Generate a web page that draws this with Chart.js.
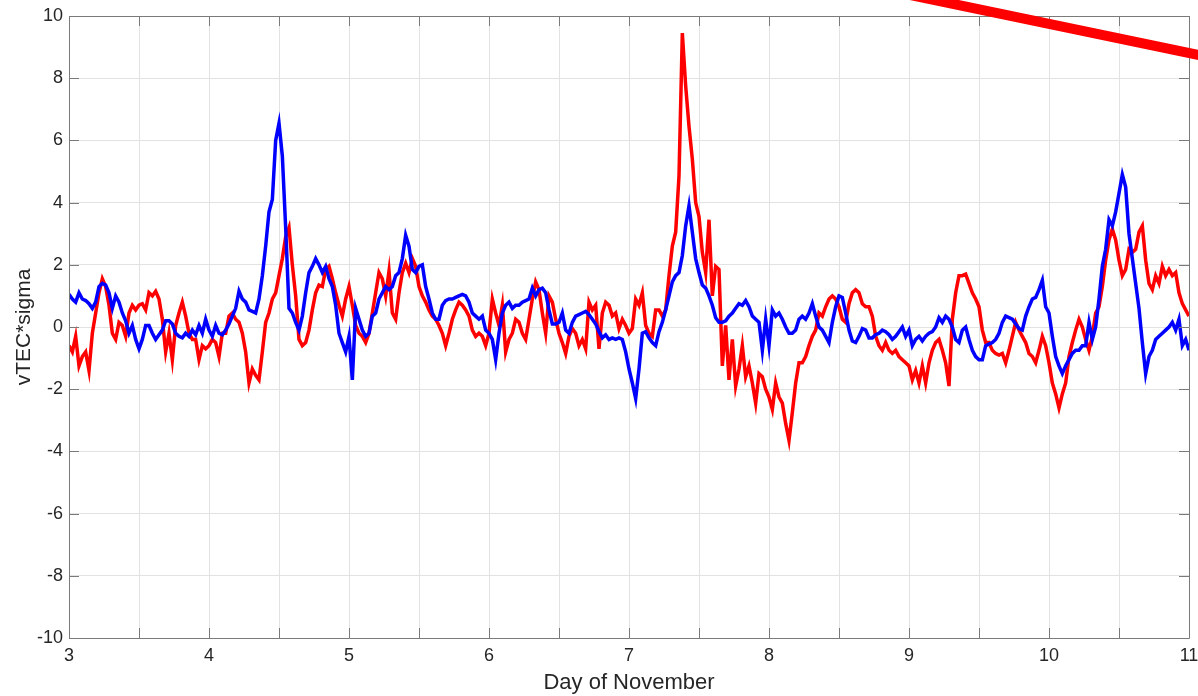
<!DOCTYPE html>
<html>
<head>
<meta charset="utf-8">
<title>vTEC*sigma, Day of November</title>
<script src="https://cdn.jsdelivr.net/npm/chart.js@4.4.1/dist/chart.umd.min.js"></script>
<style>
    html, body { margin: 0; padding: 0; background: #ffffff; }
    #wrap { width: 1198px; height: 696px; }
</style>
</head>
<body>
<div id="wrap"><canvas id="chart" width="1198" height="696"></canvas></div>
<script>
// Sampling of both series (day of November)
const START_DAY = 3;
const SAMPLES_PER_DAY = 42;

// Axis ranges and tick steps
const X_RANGE = [3, 11];
const X_TICK_STEP = 0.5;
const Y_RANGE = [-10, 10];
const Y_TICK_STEP = 2;

// Blue series (vTEC*sigma)
const blueSeries = [
    1.05, 0.9, 0.8, 1.1, 0.9, 0.85, 0.75, 0.6, 0.8, 1.3,
    1.4, 1.35, 1.1, 0.6, 1.0, 0.8, 0.45, 0.2, -0.2, 0.05,
    -0.4, -0.7, -0.4, 0.05, 0.05, -0.2, -0.4, -0.25, -0.1, 0.2,
    0.2, 0.1, -0.2, -0.3, -0.35, -0.2, -0.3, -0.1, -0.25, 0.05,
    -0.2, 0.25, -0.1, -0.3, 0.05, -0.2, -0.25, -0.1, 0.1, 0.35,
    0.6, 1.15, 0.9, 0.8, 0.55, 0.5, 0.45, 0.9, 1.65, 2.6,
    3.7, 4.1, 6.0, 6.55, 5.5, 3.2, 0.6, 0.45, 0.15,
    -0.1, 0.35, 1.1, 1.75, 1.95, 2.2, 2.0, 1.75, 1.95, 1.55,
    1.3, 0.7, -0.2, -0.5, -0.8, -0.3, -1.7, 0.6, 0.25, -0.1,
    -0.3, -0.2, 0.35, 0.45, 0.9, 1.1, 1.3, 1.2, 1.3, 1.65,
    1.75, 2.2, 2.95, 2.6, 1.85, 1.75, 1.95, 2.0, 1.3, 0.9,
    0.45, 0.25, 0.25, 0.7, 0.85, 0.9, 0.9, 0.95, 1.0, 1.05,
    1.0, 0.8, 0.45, 0.35, 0.25, 0.35, -0.1, -0.2, -0.4, -1.05,
    -0.2, 0.45, 0.7, 0.8, 0.6, 0.7,
    0.7, 0.8, 0.85, 0.9, 1.25, 1.0, 1.2, 1.25, 1.1, 0.55,
    0.1, 0.1, 0.15, 0.45, -0.1, -0.2, 0.15, 0.35, 0.4, 0.45,
    0.5, 0.4, 0.25, 0.1, -0.15, -0.35, -0.25, -0.4, -0.35, -0.4,
    -0.35, -0.4, -0.8, -1.35, -1.8, -2.3, -1.35, -0.2, -0.15, -0.35,
    -0.5, -0.6, -0.15, 0.15, 0.55, 1.0, 1.45, 1.65, 1.75, 2.3,
    3.25, 3.9, 3.05, 2.2, 1.75, 1.35, 1.25, 1.0, 0.7, 0.3,
    0.15, 0.15, 0.2, 0.35, 0.45, 0.6, 0.75,
    0.7, 0.85, 0.65, 0.35, 0.25, 0.15, -0.75, 0.25, -0.6, 0.55,
    0.35, 0.45, 0.25, 0.0, -0.2, -0.2, -0.1, 0.25, 0.35, 0.25,
    0.45, 0.75, 0.35, 0.0, -0.1, -0.3, -0.5, 0.15, 0.65, 1.0,
    0.95, 0.45, -0.1, -0.45, -0.5, -0.3, -0.05, -0.1, -0.35, -0.35,
    -0.25, -0.2, -0.1, -0.15, -0.25, -0.4, -0.3, -0.15, 0.0, -0.3,
    -0.1, -0.6, -0.4, -0.3, -0.45, -0.3, -0.2, -0.15, 0.0, 0.3,
    0.15, 0.35, 0.25, 0.0, -0.4, -0.5, -0.1,
    0.0, -0.4, -0.75, -0.95, -1.05, -1.05, -0.6, -0.55, -0.5, -0.4,
    -0.2, 0.15, 0.35, 0.3, 0.25, 0.1, -0.05, -0.1, 0.35, 0.65,
    0.9, 0.95, 1.2, 1.5, 0.65, 0.45, -0.3, -0.95, -1.25, -1.5,
    -1.25, -1.05, -0.85, -0.75, -0.75, -0.6, -0.6, 0.15, -0.4, 0.0,
    0.9, 1.95, 2.5, 3.45, 3.25, 3.7, 4.3, 4.9, 4.5, 3.0,
    2.2, 1.4, 0.6, -0.5, -1.5, -0.95, -0.75, -0.4, -0.3, -0.2,
    -0.1, 0.0, 0.15, -0.1, 0.25, -0.6, -0.4, -0.75
];

// Red series (vTEC*sigma)
const redSeries = [
    -0.6, -0.8, -0.3, -1.25, -0.95, -0.8, -1.4, -0.2, 0.45, 1.1,
    1.55, 1.3, 0.7, -0.2, -0.4, 0.15, 0.05, -0.3, 0.45, 0.7,
    0.55, 0.7, 0.75, 0.55, 1.1, 1.0, 1.15, 0.9, 0.25, -0.8,
    -0.2, -1.05, 0.05, 0.45, 0.8, 0.35, -0.2, -0.4, -0.4, -1.05,
    -0.6, -0.7, -0.6, -0.4, -0.5, -0.95, -0.2, -0.2, 0.35, 0.45,
    0.25, 0.15, -0.2, -0.8, -1.8, -1.35, -1.55, -1.7, -0.8, 0.15,
    0.45, 0.9, 1.1, 1.65, 2.2, 2.9, 3.2, 2.0, 1.0,
    -0.4, -0.6, -0.5, -0.1, 0.55, 1.1, 1.35, 1.3, 1.85, 1.95,
    1.55, 1.1, 0.7, 0.35, 0.9, 1.3, 0.7, 0.05, -0.2, -0.3,
    -0.5, -0.2, 0.45, 1.1, 1.75, 1.55, 1.0, 1.8, 0.45, 0.25,
    1.1, 1.75, 2.05, 1.75, 2.2, 1.95, 1.3, 1.0, 0.8, 0.55,
    0.35, 0.25, 0.05, -0.2, -0.6, -0.2, 0.25, 0.55, 0.8, 0.7,
    0.55, 0.35, -0.1, -0.3, -0.2, -0.3, -0.6, -0.2, 0.9, 0.45,
    0.05, 0.7, -0.8, -0.4, -0.2, 0.25,
    0.15, -0.2, -0.4, 0.25, 0.9, 1.45, 1.2, 0.45, -0.2, 1.0,
    0.8, 0.25, -0.2, -0.5, -0.85, -0.3, -0.05, -0.2, -0.6, -0.4,
    -0.7, 0.8, 0.55, 0.7, -0.7, 0.45, 0.8, 0.7, 0.35, 0.45,
    -0.05, 0.25, 0.05, -0.2, -0.05, 0.9, 0.7, 1.1, 0.05, -0.2,
    -0.3, 0.55, 0.55, 0.35, 0.55, 1.65, 2.6, 3.05, 4.85, 9.45,
    7.75, 6.45, 5.4, 4.0, 3.55, 2.4, 1.75, 3.45, 1.0, 1.95,
    1.85, -1.25, 0.05, -1.7, -0.4, -1.9, -1.35,
    -0.6, -1.6, -1.25, -1.8, -2.45, -1.5, -1.6, -2.0, -2.25, -2.65,
    -1.8, -2.25, -2.45, -3.1, -3.65, -2.75, -1.8, -1.15, -1.15, -0.95,
    -0.6, -0.3, -0.1, 0.45, 0.35, 0.65, 0.9, 1.0, 0.9, 0.65,
    0.25, 0.15, 0.75, 1.1, 1.2, 1.1, 0.75, 0.65, 0.65, 0.35,
    -0.3, -0.6, -0.75, -0.5, -0.75, -0.85, -0.75, -0.95, -1.05, -1.15,
    -1.25, -1.7, -1.4, -1.8, -1.25, -1.8, -1.15, -0.75, -0.5, -0.4,
    -0.75, -1.15, -1.9, 0.25, 1.1, 1.65, 1.65,
    1.7, 1.4, 1.1, 0.9, 0.65, -0.1, -0.5, -0.5, -0.75, -0.85,
    -0.9, -0.85, -1.15, -0.75, -0.3, 0.15, -0.1, -0.3, -0.5, -0.85,
    -0.95, -1.15, -0.75, -0.3, -0.6, -1.15, -1.8, -2.15, -2.6, -2.15,
    -1.8, -0.95, -0.5, -0.1, 0.25, 0.0, -0.4, -0.75, -0.3, 0.45,
    0.65, 1.3, 2.15, 2.8, 3.15, 2.8, 2.15, 1.65, 1.85, 2.5,
    2.4, 2.5, 3.05, 3.25, 2.15, 1.4, 1.2, 1.65, 1.4, 1.95,
    1.65, 1.85, 1.65, 1.75, 1.1, 0.75, 0.55, 0.35
];

// Red marker line in the top right corner, in data units
const markerLine = [[8.8, 10.87], [11.1, 8.72]];

const FONT_FAMILY = '"Liberation Sans", Arial, Helvetica, sans-serif';
const TEXT_COLOR = '#262626';
const AXIS_COLOR = '#7a7a7a';
const GRID_COLOR = '#e2e2e2';
const TICK_LEN = 10;

function toPoints(values) {
    return values.map((v, i) => ({ x: START_DAY + i / SAMPLES_PER_DAY, y: v }));
}

// Box round the plot with inward ticks on all four sides
const matlabAxes = {
    id: 'matlabAxes',
    afterDatasetsDraw(chart) {
        const { ctx, chartArea: a, scales: { x, y } } = chart;
        ctx.save();
        ctx.strokeStyle = AXIS_COLOR;
        ctx.lineWidth = 1;
        ctx.beginPath();
        ctx.rect(Math.round(a.left) + 0.5, Math.round(a.top) + 0.5,
                 Math.round(a.right - a.left), Math.round(a.bottom - a.top));
        x.ticks.forEach(t => {
            const px = Math.round(x.getPixelForValue(t.value)) + 0.5;
            ctx.moveTo(px, a.bottom); ctx.lineTo(px, a.bottom - TICK_LEN);
            ctx.moveTo(px, a.top); ctx.lineTo(px, a.top + TICK_LEN);
        });
        y.ticks.forEach(t => {
            const py = Math.round(y.getPixelForValue(t.value)) + 0.5;
            ctx.moveTo(a.left, py); ctx.lineTo(a.left + TICK_LEN, py);
            ctx.moveTo(a.right, py); ctx.lineTo(a.right - TICK_LEN, py);
        });
        ctx.stroke();
        ctx.restore();
    },
    afterDraw(chart) {
        const { ctx, scales: { x, y } } = chart;
        ctx.save();
        ctx.strokeStyle = '#ff0000';
        ctx.lineWidth = 10;
        ctx.lineCap = 'butt';
        ctx.beginPath();
        markerLine.forEach(([dx, dy], i) => {
            const px = x.getPixelForValue(dx);
            const py = y.getPixelForValue(dy);
            if (i === 0) ctx.moveTo(px, py); else ctx.lineTo(px, py);
        });
        ctx.stroke();
        ctx.restore();
    }
};

function createChart() {
    const ctx = document.getElementById('chart').getContext('2d');
    new Chart(ctx, {
        type: 'line',
        data: {
            datasets: [{
                label: 'blue',
                data: toPoints(blueSeries),
                borderColor: '#0000ff',
                borderWidth: 3.5,
                pointRadius: 0,
                tension: 0,
                fill: false
            }, {
                label: 'red',
                data: toPoints(redSeries),
                borderColor: '#ff0000',
                borderWidth: 3.5,
                pointRadius: 0,
                tension: 0,
                fill: false
            }]
        },
        options: {
            responsive: false,
            animation: false,
            devicePixelRatio: 1,
            layout: { padding: { top: 16, right: 9, left: 0, bottom: 0 } },
            plugins: {
                legend: { display: false },
                tooltip: { enabled: false }
            },
            scales: {
                x: {
                    type: 'linear',
                    min: X_RANGE[0],
                    max: X_RANGE[1],
                    afterFit(scale) {
                        scale.height = 58;
                        scale.paddingLeft = 0;
                        scale.paddingRight = 0;
                    },
                    border: { display: false },
                    grid: { color: GRID_COLOR, lineWidth: 1, drawTicks: false },
                    ticks: {
                        stepSize: X_TICK_STEP,
                        autoSkip: false,
                        maxRotation: 0,
                        padding: 7,
                        color: TEXT_COLOR,
                        font: { family: FONT_FAMILY, size: 18 },
                        callback: v => (Number.isInteger(v) ? String(v) : '')
                    },
                    title: {
                        display: true,
                        text: 'Day of November',
                        color: TEXT_COLOR,
                        font: { family: FONT_FAMILY, size: 22 },
                        padding: { top: 0, bottom: 0 }
                    }
                },
                y: {
                    min: Y_RANGE[0],
                    max: Y_RANGE[1],
                    afterFit(scale) {
                        scale.width = 69;
                        scale.paddingTop = 0;
                        scale.paddingBottom = 0;
                    },
                    border: { display: false },
                    grid: { color: GRID_COLOR, lineWidth: 1, drawTicks: false },
                    ticks: {
                        stepSize: Y_TICK_STEP,
                        padding: 6,
                        color: TEXT_COLOR,
                        font: { family: FONT_FAMILY, size: 18 }
                    },
                    title: {
                        display: true,
                        text: 'vTEC*sigma',
                        color: TEXT_COLOR,
                        font: { family: FONT_FAMILY, size: 21 },
                        padding: { top: 12, bottom: 0 }
                    }
                }
            }
        },
        plugins: [matlabAxes]
    });
}

document.addEventListener('DOMContentLoaded', createChart);
</script>
</body>
</html>
